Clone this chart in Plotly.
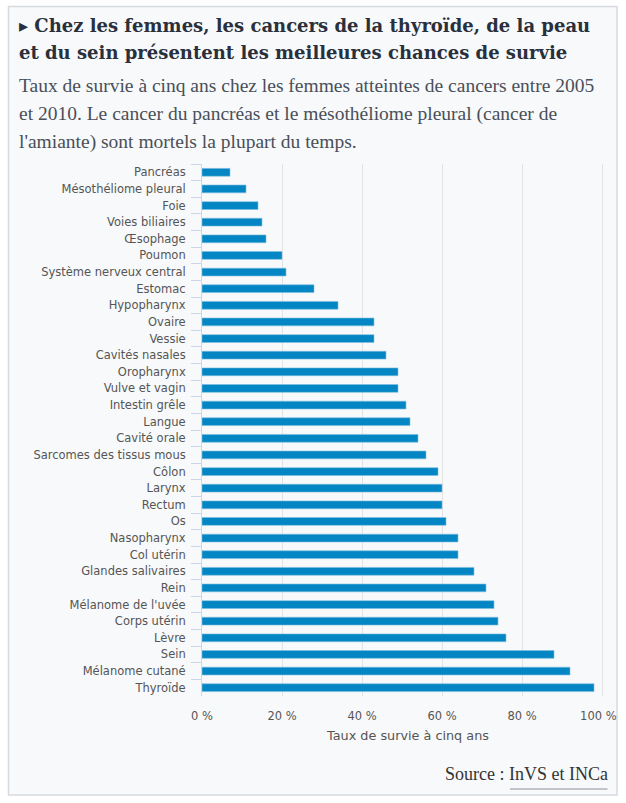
import plotly.graph_objects as go

categories = ["Pancréas", "Mésothéliome pleural", "Foie", "Voies biliaires", "Œsophage",
              "Poumon", "Système nerveux central", "Estomac", "Hypopharynx", "Ovaire",
              "Vessie", "Cavités nasales", "Oropharynx", "Vulve et vagin", "Intestin grêle",
              "Langue", "Cavité orale", "Sarcomes des tissus mous", "Côlon", "Larynx",
              "Rectum", "Os", "Nasopharynx", "Col utérin", "Glandes salivaires", "Rein",
              "Mélanome de l'uvée", "Corps utérin", "Lèvre", "Sein", "Mélanome cutané", "Thyroïde"]
survival = [7, 11, 14, 15, 16, 20, 21, 28, 34, 43, 43, 46, 49, 49, 51, 52, 54, 56, 59, 60,
            60, 61, 64, 64, 68, 71, 73, 74, 76, 88, 92, 98]
x_ticks = [0, 20, 40, 60, 80, 100]
x_ticktext = ["0 %", "20 %", "40 %", "60 %", "80 %", "100 %\u00a0\u00a0"]

W, H = 626, 803
ML, MR, MT, MB = 202, 12, 164, 107
PW, PH = W - ML - MR, H - MT - MB

def px(x):
    return (x - ML) / PW

def py(y):
    return (H - MB - y) / PH

fig = go.Figure(go.Bar(
    x=survival, y=categories, orientation="h",
    marker=dict(color="#0386c3", line=dict(color="#7fbfe0", width=0.6)),
    hoverinfo="x+y",
))

lab_font = dict(family="DejaVu Sans", size=11.5, color="#555555")

fig.update_layout(
    width=W, height=H,
    margin=dict(l=ML, r=MR, t=MT, b=MB),
    paper_bgcolor="white", plot_bgcolor="rgba(0,0,0,0)",
    bargap=0.53, showlegend=False,
    font=lab_font,
)

fig.update_xaxes(
    range=[0, 103], tickvals=x_ticks, ticktext=x_ticktext, automargin=False,
    showgrid=True, gridcolor="#e3e3e3", gridwidth=1, zeroline=False, showline=False,
    ticks="", ticklabelstandoff=11,
    tickfont=lab_font,
    title=dict(text="Taux de survie à cinq ans", standoff=9,
               font=dict(family="DejaVu Sans", size=12.8, color="#555555")),
)
fig.update_yaxes(
    autorange="reversed", type="category", tickson="boundaries", automargin=False,
    ticks="outside", ticklen=10, tickcolor="#ccd6eb", tickwidth=1,
    showline=True, linecolor="#ccd6eb", linewidth=1, showgrid=False,
    ticklabelstandoff=13,
    tickfont=lab_font,
)

shapes = [
    dict(type="rect", xref="paper", yref="paper", layer="below",
         x0=px(8.5), x1=px(617), y0=py(795), y1=py(6.5),
         fillcolor="#f7f9fb", line=dict(color="#d6dadf", width=1.5)),
    dict(type="line", xref="paper", yref="paper",
         x0=px(510), x1=px(607.5), y0=py(789), y1=py(789),
         line=dict(color="#8a8f99", width=1)),
]
fig.update_layout(shapes=shapes)

title_font = dict(family="DejaVu Serif", size=18, color="#2a303b")
sub_font = dict(family="Liberation Serif", size=19.5, color="#4a4f58")
ann = [
    dict(text="<b>▸ Chez les femmes, les cancers de la thyroïde, de la peau</b>", x=px(17), y=py(25), font=title_font),
    dict(text="<b>et du sein présentent les meilleures chances de survie</b>", x=px(17), y=py(53), font=title_font),
    dict(text="Taux de survie à cinq ans chez les femmes atteintes de cancers entre 2005", x=px(17), y=py(86), font=sub_font),
    dict(text="et 2010. Le cancer du pancréas et le mésothéliome pleural (cancer de", x=px(17), y=py(114), font=sub_font),
    dict(text="l'amiante) sont mortels la plupart du temps.", x=px(17), y=py(142), font=sub_font),
]
for a in ann:
    a.update(xref="paper", yref="paper", xanchor="left", yanchor="middle", showarrow=False)
ann.append(dict(text="Source : InVS et INCa", x=px(610), y=py(774), xref="paper", yref="paper",
                xanchor="right", yanchor="middle", showarrow=False,
                font=dict(family="Liberation Serif", size=18, color="#333333")))
fig.update_layout(annotations=ann)

fig.write_html("out.html")
